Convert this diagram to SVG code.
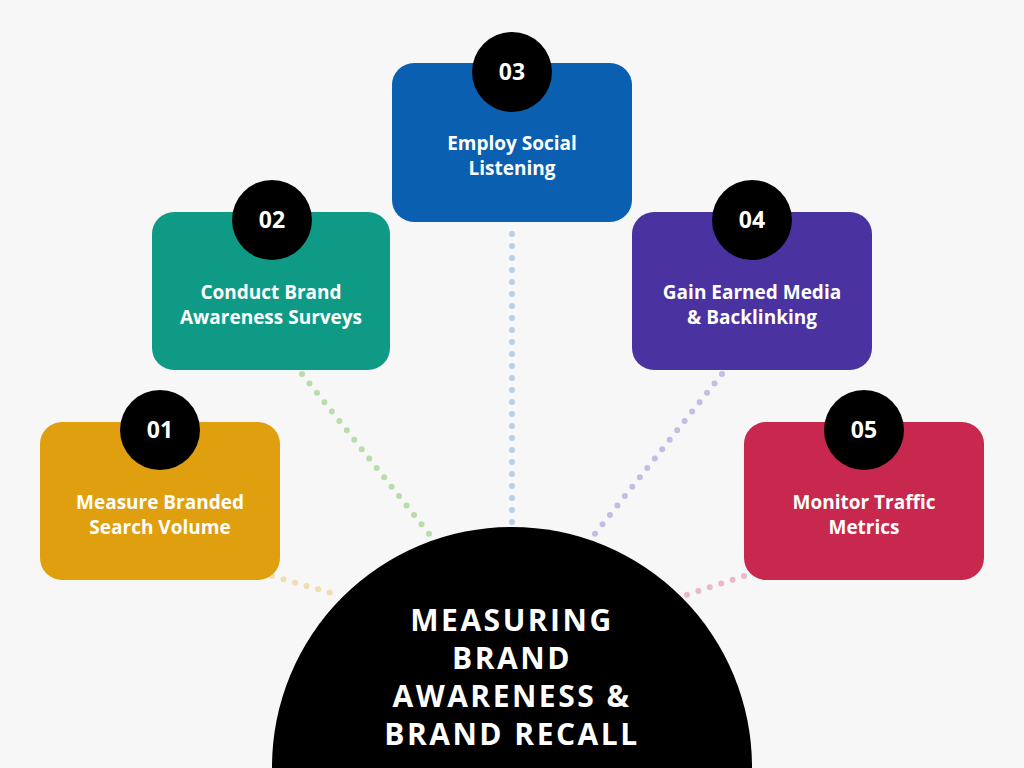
<svg xmlns="http://www.w3.org/2000/svg" width="1024" height="768" viewBox="0 0 1024 768">
<style>
.box{stroke:none}
.lbl{font-family:"Open Sans","Liberation Sans",sans-serif;font-weight:700;font-size:19px;fill:#fff;text-anchor:middle}
.num{font-family:"Open Sans","Liberation Sans",sans-serif;font-weight:700;font-size:23px;fill:#fff;text-anchor:middle}
.title{font-family:"Open Sans","Liberation Sans",sans-serif;font-weight:700;font-size:30px;fill:#fff;text-anchor:middle;letter-spacing:2.5px}
.dot{fill:none;stroke-width:6;stroke-linecap:round;stroke-dasharray:0 12}
</style>
<rect width="1024" height="768" fill="#f7f7f7"/>
<g id="connectors">
<line class="dot" x1="272" y1="576" x2="338" y2="595" stroke="#f3dcae"/>
<line class="dot" x1="302" y1="374" x2="434" y2="540" stroke="#b8dcaa"/>
<line class="dot" x1="512" y1="234" x2="512" y2="524" stroke="#b9cfe6"/>
<line class="dot" x1="722" y1="374" x2="590" y2="540" stroke="#c3bde6"/>
<line class="dot" x1="744" y1="576" x2="680" y2="597" stroke="#eab8c8"/>
</g>
<g id="center">
<circle cx="512" cy="767" r="240" fill="#000"/>
<text class="title" x="512" y="631">MEASURING</text>
<text class="title" x="512" y="669">BRAND</text>
<text class="title" x="512" y="707">AWARENESS &amp;</text>
<text class="title" x="512" y="745">BRAND RECALL</text>
</g>
<g id="n01">
<rect x="40" y="422" width="240" height="158" rx="22" fill="#df9f0f"/>
<circle cx="160" cy="430" r="40" fill="#000"/>
<text class="num" x="160" y="438">01</text>
<text class="lbl" x="160" y="509">Measure Branded</text>
<text class="lbl" x="160" y="534">Search Volume</text>
</g>
<g id="n02">
<rect x="152" y="212" width="238" height="158" rx="22" fill="#0f9a85"/>
<circle cx="272" cy="220" r="40" fill="#000"/>
<text class="num" x="272" y="228">02</text>
<text class="lbl" x="271" y="299">Conduct Brand</text>
<text class="lbl" x="271" y="324">Awareness Surveys</text>
</g>
<g id="n03">
<rect x="392" y="63" width="240" height="159" rx="22" fill="#0a5fb0"/>
<circle cx="512" cy="72" r="40" fill="#000"/>
<text class="num" x="512" y="80">03</text>
<text class="lbl" x="512" y="150">Employ Social</text>
<text class="lbl" x="512" y="175">Listening</text>
</g>
<g id="n04">
<rect x="632" y="212" width="240" height="158" rx="22" fill="#4a33a0"/>
<circle cx="752" cy="220" r="40" fill="#000"/>
<text class="num" x="752" y="228">04</text>
<text class="lbl" x="752" y="299">Gain Earned Media</text>
<text class="lbl" x="752" y="324">&amp; Backlinking</text>
</g>
<g id="n05">
<rect x="744" y="422" width="240" height="158" rx="22" fill="#c8284e"/>
<circle cx="864" cy="430" r="40" fill="#000"/>
<text class="num" x="864" y="438">05</text>
<text class="lbl" x="864" y="509">Monitor Traffic</text>
<text class="lbl" x="864" y="534">Metrics</text>
</g>
</svg>
